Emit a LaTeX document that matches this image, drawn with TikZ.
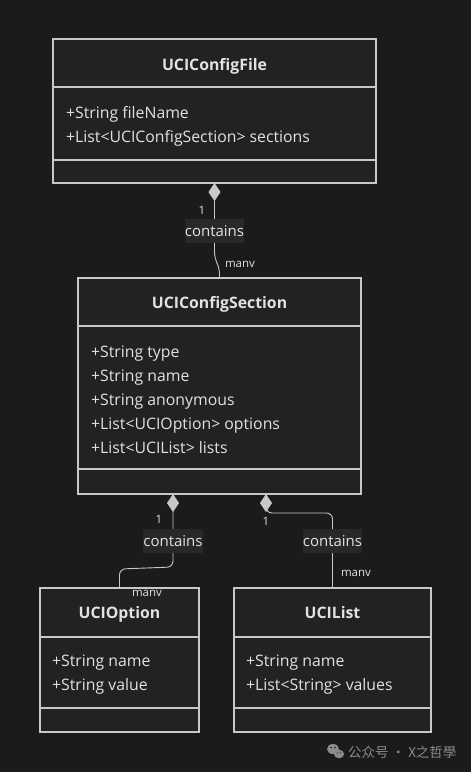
\documentclass[tikz,border=0pt]{standalone}
\usepackage{fontspec}
\setmainfont{Open Sans}
\newfontfamily\cjk{Noto Sans CJK SC}
\usetikzlibrary{arrows.meta}
\definecolor{bg}{HTML}{1B1B1B}
\definecolor{boxfill}{HTML}{212222}
\definecolor{edge}{HTML}{C8C8C8}
\definecolor{txt}{HTML}{E2E2E2}
\definecolor{lblbg}{HTML}{272828}
\definecolor{wm}{HTML}{8C8C8C}
\tikzset{
  classbox/.style={draw=edge, line width=1.6pt, fill=boxfill, inner sep=0pt},
  divider/.style={draw=edge, line width=1.6pt},
  title/.style={text=txt, font=\bfseries\fontsize{15.8}{18}\selectfont, inner sep=0pt, anchor=base},
  attr/.style={text=txt, font=\fontsize{15.8}{18}\selectfont, anchor=base west, inner sep=0pt},
  conn/.style={draw=edge, line width=0.9pt, rounded corners=6pt},
  agg/.style={{Diamond[width=12pt,length=18pt,fill=edge]}-},
  lbl/.style={fill=lblbg, text=txt, font=\fontsize{15}{18}\selectfont, minimum width=59pt, minimum height=24pt, inner sep=0pt},
  mult/.style={text=txt, font=\fontsize{11.5}{13}\selectfont, inner sep=0pt}
}
\begin{document}
\begin{tikzpicture}[x=1pt,y=-1pt]
\useasboundingbox[fill=bg] (0,0) rectangle (471,772);
% class boxes
\node[classbox, minimum width=323pt, minimum height=144pt] (file) at (214.5,111) {};
\node[classbox, minimum width=283pt, minimum height=216pt] (sec) at (219.5,386) {};
\node[classbox, minimum width=159pt, minimum height=144pt] (opt) at (119.5,660) {};
\node[classbox, minimum width=197pt, minimum height=144pt] (lst) at (332.5,660) {};
% dividers
\draw[divider] (file.west |- 0,87) -- (file.east |- 0,87);
\draw[divider] (file.west |- 0,160) -- (file.east |- 0,160);
\draw[divider] (sec.west |- 0,326) -- (sec.east |- 0,326);
\draw[divider] (sec.west |- 0,469) -- (sec.east |- 0,469);
\draw[divider] (opt.west |- 0,637) -- (opt.east |- 0,637);
\draw[divider] (opt.west |- 0,708) -- (opt.east |- 0,708);
\draw[divider] (lst.west |- 0,637) -- (lst.east |- 0,637);
\draw[divider] (lst.west |- 0,708) -- (lst.east |- 0,708);
% titles
\node[title] (tfile) at (214.5,70) {UCIConfigFile};
\node[title] (tsec) at (219.5,308) {UCIConfigSection};
\node[title] (topt) at (119.5,618) {UCIOption};
\node[title] (tlst) at (332.5,618) {UCIList};
% attributes
\node[attr] (a1) at (66,118) {+String fileName};
\node[attr] (a2) at (66,142) {+List<UCIConfigSection> sections};
\node[attr] (b1) at (91,357) {+String type};
\node[attr] (b2) at (91,381) {+String name};
\node[attr] (b3) at (91,405) {+String anonymous};
\node[attr] (b4) at (91,429) {+List<UCIOption> options};
\node[attr] (b5) at (91,453) {+List<UCIList> lists};
\node[attr] (c1) at (52,666) {+String name};
\node[attr] (c2) at (52,690) {+String value};
\node[attr] (d1) at (246,666) {+String name};
\node[attr] (d2) at (246,690) {+List<String> values};
% connectors
\coordinate (s1) at (214.5,183);
\coordinate (s2) at (173,494);
\coordinate (s3) at (266,494);
\draw[conn, agg] (s1) -- (214.5,258) -- (219.5,268) -- (sec.north);
\draw[conn, agg] (s2) -- (173,567) -- (119.5,569) -- (opt.north);
\draw[conn, agg] (s3) -- (266,513) -- (332.5,513) -- (lst.north);
% labels
\node[lbl] (l1) at (214.5,231) {contains};
\node[lbl] (l2) at (173,541) {contains};
\node[lbl] (l3) at (332.5,541) {contains};
\node[mult] (m1) at (202,210) {1};
\node[mult] (m2) at (240,264) {manv};
\node[mult] (m3) at (159,519) {1};
\node[mult] (m4) at (266,521) {1};
\node[mult] (m5) at (147,593) {manv};
\node[mult] (m6) at (356,573) {manv};
% watermark
\fill[wm] (333,749) ellipse (6pt and 5pt);
\fill[wm] (339,754) ellipse (5pt and 4.3pt);
\fill[bg] (331,747.5) circle (0.9pt) (335,747.5) circle (0.9pt);
\fill[bg] (337.5,753) circle (0.7pt) (340.5,753) circle (0.7pt);
\node[text=wm, font=\cjk\fontsize{13.5}{15}\selectfont, anchor=west, inner sep=0pt] (wmk) at (348,752) {公众号 · X之哲學};
\end{tikzpicture}
\end{document}
